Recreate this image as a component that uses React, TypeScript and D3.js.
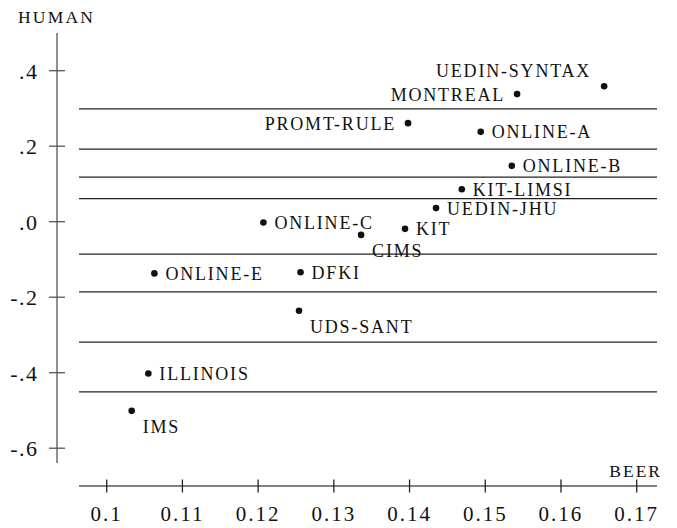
import { useEffect, useRef } from "react";
import * as d3 from "d3";

// system names, BEER score (x) and human score (y)
const systems = [
  "UEDIN-SYNTAX", "MONTREAL", "PROMT-RULE", "ONLINE-A", "ONLINE-B",
  "KIT-LIMSI", "UEDIN-JHU", "ONLINE-C", "KIT", "CIMS",
  "ONLINE-E", "DFKI", "UDS-SANT", "ILLINOIS", "IMS",
];
const beer = [
  0.1657, 0.1542, 0.1398, 0.1494, 0.1535,
  0.1469, 0.1435, 0.1207, 0.1394, 0.1336,
  0.1063, 0.1256, 0.1254, 0.1055, 0.1033,
];
const human = [
  0.359, 0.338, 0.261, 0.238, 0.148,
  0.086, 0.036, -0.002, -0.019, -0.035,
  -0.137, -0.134, -0.236, -0.402, -0.501,
];
// horizontal lines separating the clusters
const clusterBounds = [0.299, 0.192, 0.118, 0.061, -0.086, -0.186, -0.319, -0.451];

const xTicks = [0.1, 0.11, 0.12, 0.13, 0.14, 0.15, 0.16, 0.17];
const yTicks = [0.4, 0.2, 0, -0.2, -0.4, -0.6];
const yTickLabels = [".4", ".2", ".0", "-.2", "-.4", "-.6"];

// where each label sits relative to its dot
const labelSide: Record<string, string> = {
  "UEDIN-SYNTAX": "topleft",
  MONTREAL: "left",
  "PROMT-RULE": "left",
  CIMS: "below",
  "UDS-SANT": "below",
  IMS: "below",
};

const W = 677;
const H = 528;
const FONT = "'Liberation Serif', 'Times New Roman', serif";

export default function App() {
  const svgRef = useRef<SVGSVGElement>(null);

  useEffect(() => {
    const svg = d3.select(svgRef.current);
    svg.selectAll("*").remove();

    const x = d3.scaleLinear().domain([0.1, 0.17]).range([106.7, 636.7]);
    const y = d3.scaleLinear().domain([-0.6, 0.4]).range([448.2, 70.7]);

    const left = 79;
    const right = 657;
    const axisX = 57;
    const axisY = 486;

    // cluster lines
    svg
      .selectAll(".sep")
      .data(clusterBounds)
      .join("line")
      .attr("x1", left)
      .attr("x2", right)
      .attr("y1", (d) => y(d))
      .attr("y2", (d) => y(d))
      .attr("stroke", "#222")
      .attr("stroke-width", 1.3);

    // y axis
    svg
      .append("line")
      .attr("x1", axisX)
      .attr("x2", axisX)
      .attr("y1", 33)
      .attr("y2", 463)
      .attr("stroke", "#555")
      .attr("stroke-width", 1.3);
    const yt = svg.selectAll(".yt").data(yTicks).join("g")
      .attr("transform", (d) => `translate(0,${y(d)})`);
    yt.append("line")
      .attr("x1", axisX - 8)
      .attr("x2", axisX + 8)
      .attr("stroke", "#555")
      .attr("stroke-width", 1.3);
    yt.append("text")
      .attr("x", 38.5)
      .attr("y", 8)
      .attr("text-anchor", "end")
      .attr("font-family", FONT)
      .attr("font-size", 22)
      .attr("letter-spacing", 1.5)
      .attr("fill", "#111")
      .text((d, i) => yTickLabels[i]);

    // x axis
    svg
      .append("line")
      .attr("x1", left)
      .attr("x2", right)
      .attr("y1", axisY)
      .attr("y2", axisY)
      .attr("stroke", "#555")
      .attr("stroke-width", 1.3);
    const xt = svg.selectAll(".xt").data(xTicks).join("g")
      .attr("transform", (d) => `translate(${x(d)},${axisY})`);
    xt.append("line")
      .attr("y1", -6.5)
      .attr("y2", 6.5)
      .attr("stroke", "#222")
      .attr("stroke-width", 1.3);
    xt.append("text")
      .attr("y", 35)
      .attr("text-anchor", "middle")
      .attr("font-family", FONT)
      .attr("font-size", 21)
      .attr("letter-spacing", 2)
      .attr("fill", "#111")
      .text((d) => String(d));

    // axis titles
    svg
      .append("text")
      .attr("x", 18)
      .attr("y", 22.7)
      .attr("font-family", FONT)
      .attr("font-size", 17.5)
      .attr("letter-spacing", 2.2)
      .attr("fill", "#111")
      .text("HUMAN");
    svg
      .append("text")
      .attr("x", 662)
      .attr("y", 477)
      .attr("text-anchor", "end")
      .attr("font-family", FONT)
      .attr("font-size", 17.5)
      .attr("letter-spacing", 2)
      .attr("fill", "#111")
      .text("BEER");

    // points
    const pts = svg
      .selectAll(".pt")
      .data(systems)
      .join("g")
      .attr("transform", (d, i) => `translate(${x(beer[i])},${y(human[i])})`);
    pts.append("circle").attr("r", 3.3).attr("fill", "#111");
    pts
      .append("text")
      .attr("font-family", FONT)
      .attr("font-size", 18)
      .attr("letter-spacing", 1.8)
      .attr("fill", "#111")
      .attr("text-anchor", (d) => {
        const s = labelSide[d];
        return s === "left" || s === "topleft" ? "end" : "start";
      })
      .attr("x", (d) => {
        const s = labelSide[d];
        if (s === "topleft") return -13;
        if (s === "left") return -12;
        return 11;
      })
      .attr("y", (d) => {
        const s = labelSide[d];
        if (s === "topleft") return -9;
        if (s === "below") return 22.5;
        return 6.5;
      })
      .text((d) => d);
  }, []);

  return (
    <svg
      ref={svgRef}
      width={W}
      height={H}
      style={{ position: "absolute", left: 0, top: 0, background: "#fff" }}
    />
  );
}
